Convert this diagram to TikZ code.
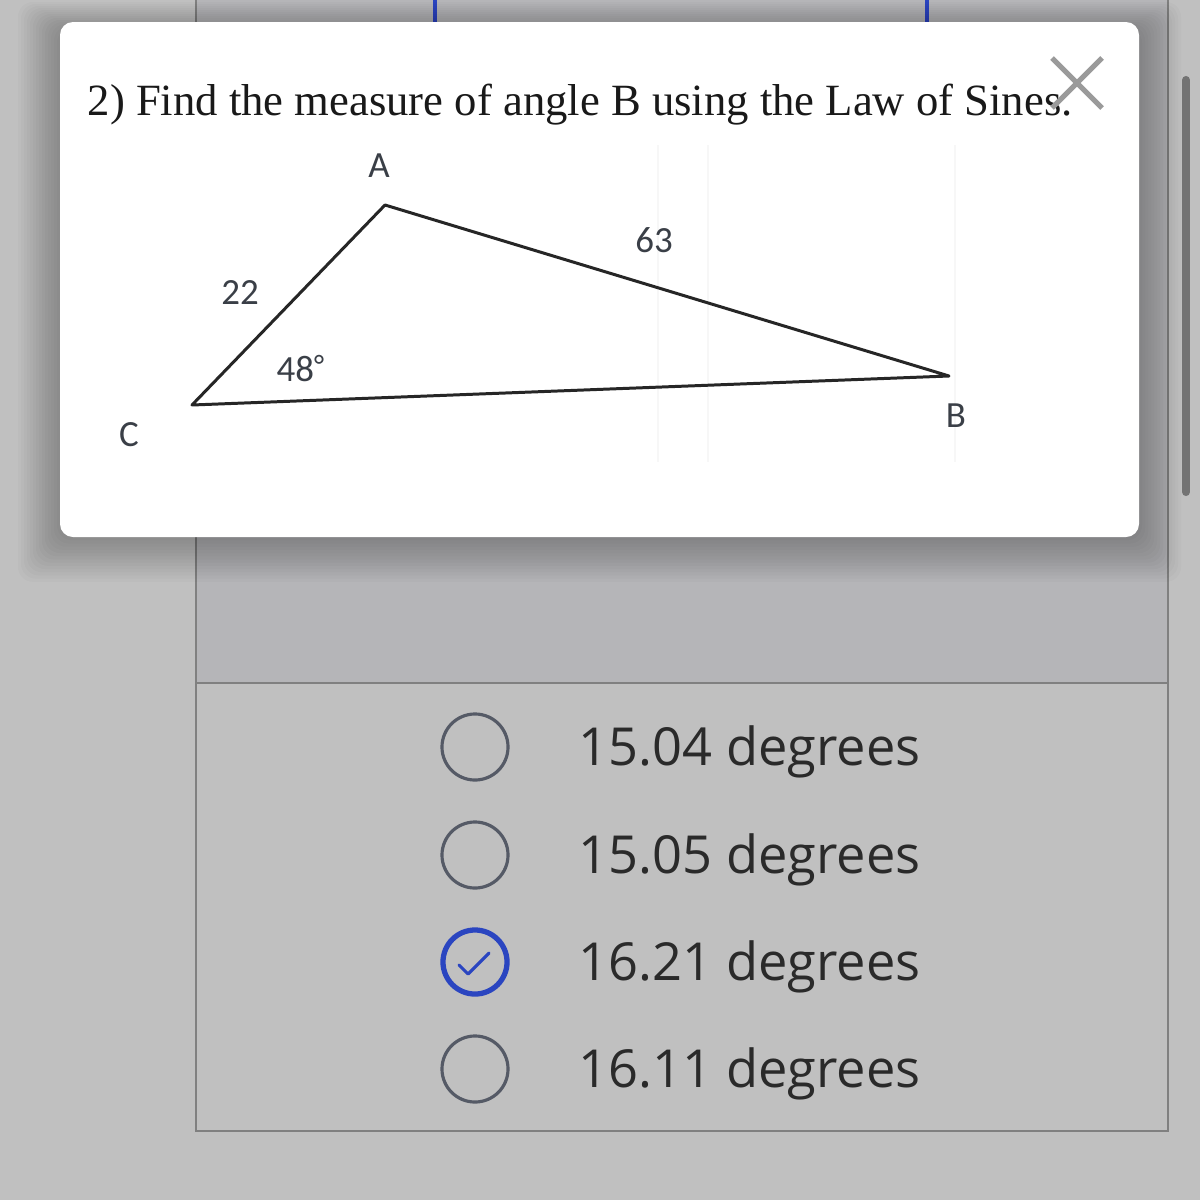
\documentclass[tikz,border=0pt]{standalone}
\usepackage{fontspec}
\setmainfont{Liberation Serif}
\newfontfamily\optfont{Open Sans}
\newfontfamily\labfont{Carlito}
\definecolor{bgc}{HTML}{C0C0C0}
\definecolor{panelup}{HTML}{B5B5B8}
\definecolor{frame}{HTML}{808080}
\definecolor{selblue}{HTML}{2A45C0}
\definecolor{ringc}{HTML}{555A66}
\definecolor{labc}{HTML}{3A3F47}
\definecolor{optc}{HTML}{2A2A2A}
\definecolor{closec}{HTML}{9A9A9A}
\begin{document}
\begin{tikzpicture}[x=0.01cm,y=-0.01cm,
  framel/.style={draw=frame,line width=0.6pt},
  ring/.style={circle,draw=ringc,line width=0.9pt,minimum size=0.66cm,inner sep=0pt},
  selring/.style={circle,draw=selblue,line width=1.5pt,minimum size=0.64cm,inner sep=0pt},
  opttext/.style={anchor=base west,inner sep=0pt,text=optc,font=\optfont\fontsize{14.9pt}{17pt}\selectfont},
  lab/.style={inner sep=0pt,text=labc,font=\labfont\fontsize{10.5pt}{12pt}\selectfont},
  side/.style={draw=black!85,line width=0.85pt,line join=round}]
\useasboundingbox (0,0) rectangle (1200,1200);
% background
\fill[bgc] (0,0) rectangle (1200,1200);
\fill[panelup] (196,0) rectangle (1168,683);
% blue box tops behind popup
\draw[selblue,line width=0.9pt] (435,0) -- (435,25);
\draw[selblue,line width=0.9pt] (927,0) -- (927,25);
% panel frame
\draw[framel] (196,0) -- (196,1131) -- (1168,1131) -- (1168,0);
\draw[framel] (196,683) -- (1168,683);
% scrollbar
\draw[draw=black!55,line width=2.3pt,line cap=round] (1186,80) -- (1186,492);
% popup shadow
\foreach \i in {1,...,14}{
  \fill[black,opacity=0.02,rounded corners=0.15cm] (60-\i*3,22-\i*2+8) rectangle (1139+\i*3,537+\i*3.2);}
% popup
\fill[white,rounded corners=0.13cm] (60,22) rectangle (1139,537);
% faint scan lines
\foreach \xx in {658,708,955}{\draw[black!3,line width=0.4pt] (\xx,145) -- (\xx,462);}
% title
\node[anchor=base west,inner sep=0pt,text=black!90,font=\fontsize{12.7pt}{15pt}\selectfont] (title) at (87,115) {2) Find the measure of angle B using the Law of Sines.};
% close X
\coordinate (x1) at (1052,58);
\coordinate (x2) at (1102,108);
\coordinate (x3) at (1052,108);
\coordinate (x4) at (1102,58);
\draw[closec,line width=1.5pt] (x1) -- (x2) (x3) -- (x4);
% triangle
\coordinate (A) at (385,205);
\coordinate (B) at (949,376);
\coordinate (C) at (192,405);
\draw[side] (A) -- (B) -- (C) -- cycle;
\node[lab] (la) at (379,166) {A};
\node[lab] (lb) at (956,416) {B};
\node[lab] (lc) at (129,435) {C};
\node[lab] (l22) at (240,293) {22};
\node[lab] (l63) at (654,240) {63};
\node[lab,anchor=base west] (l48) at (276,381) {48\raisebox{0.3ex}{\scalebox{0.8}{°}}};
% options
\node[ring] (r1) at (475,747) {};
\node[ring] (r2) at (475,855) {};
\node[selring] (r3) at (475,962) {};
\node[ring] (r4) at (475,1069) {};
\coordinate (k1) at (459,965);
\coordinate (k2) at (468,974);
\coordinate (k3) at (489,953);
\draw[selblue,line width=0.9pt,line cap=round,line join=round] (k1) -- (k2) -- (k3);
\node[opttext] (t1) at (578,765) {15.04 degrees};
\node[opttext] (t2) at (578,873) {15.05 degrees};
\node[opttext] (t3) at (578,980) {16.21 degrees};
\node[opttext] (t4) at (578,1087) {16.11 degrees};
\end{tikzpicture}
\end{document}
